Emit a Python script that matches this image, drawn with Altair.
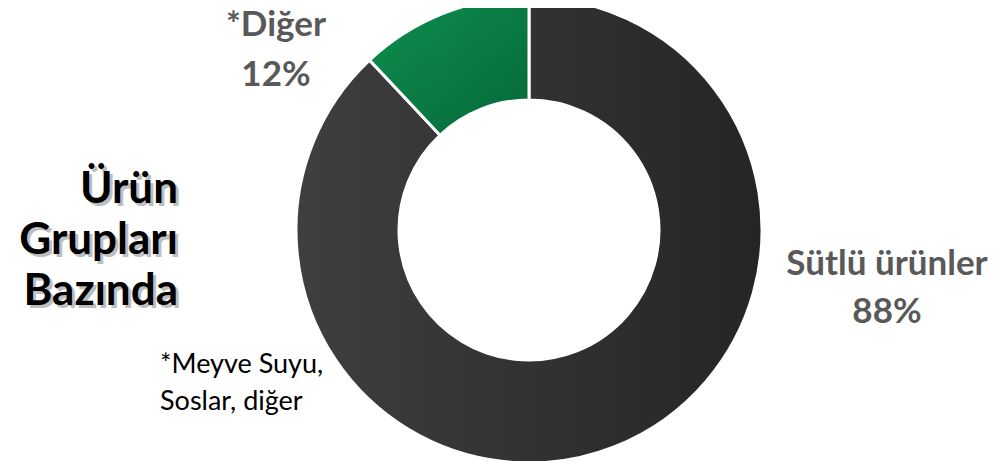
import altair as alt
import pandas as pd

# ---- data ----
categories = ["Sütlü ürünler", "*Diğer"]
values = [88, 12]
pct_labels = ["88%", "12%"]
slice_order = [0, 1]
title_lines = ["Ürün", "Grupları", "Bazında"]
note_lines = ["*Meyve Suyu,", "Soslar, diğer"]

df = pd.DataFrame({"cat": categories, "val": values, "pct": pct_labels, "ord": slice_order})
title_df = pd.DataFrame({"t": ["|".join(title_lines)]})
note_df = pd.DataFrame({"t": ["|".join(note_lines)]})

grey_grad = alt.LinearGradient(
    gradient="linear",
    stops=[alt.GradientStop(color="#3f3f3f", offset=0), alt.GradientStop(color="#252525", offset=1)],
    x1=0, y1=0, x2=1, y2=0,
)
green_grad = alt.LinearGradient(
    gradient="linear",
    stops=[alt.GradientStop(color="#0e8f4f", offset=0), alt.GradientStop(color="#066838", offset=1)],
    x1=0, y1=0, x2=1, y2=1,
)

CX, CY = 521, 222

arc = alt.Chart(df).mark_arc(radius=233, radius2=130, stroke="white", strokeWidth=3).encode(
    theta=alt.Theta("val:Q", stack=True),
    order=alt.Order("ord:Q"),
    fill=alt.condition(alt.datum.cat == "*Diğer", alt.value(green_grad), alt.value(grey_grad)),
    x=alt.value(CX),
    y=alt.value(CY),
)


def slice_label(cat, x, y, lh):
    return (
        alt.Chart(df)
        .transform_filter(alt.datum.cat == cat)
        .transform_calculate(lab="datum.cat + '|' + datum.pct")
        .mark_text(font="Lato", fontWeight="bold", fontSize=35, color="#595959",
                   align="center", baseline="alphabetic", lineBreak="|", lineHeight=lh)
        .encode(text="lab:N", x=alt.value(x), y=alt.value(y))
    )


lab_other = slice_label("*Diğer", 268, 28, 50)
lab_milk = slice_label("Sütlü ürünler", 879, 267, 48)

title_shadow = alt.Chart(title_df).mark_text(
    font="Lato", fontWeight="bold", fontSize=44, color="#8a8a8a", opacity=0.55,
    align="right", baseline="alphabetic", lineBreak="|", lineHeight=51,
).encode(text="t:N", x=alt.value(173), y=alt.value(198))

title = alt.Chart(title_df).mark_text(
    font="Lato", fontWeight="bold", fontSize=44, color="#000000",
    align="right", baseline="alphabetic", lineBreak="|", lineHeight=51,
).encode(text="t:N", x=alt.value(170), y=alt.value(195))

note = alt.Chart(note_df).mark_text(
    font="Lato", fontSize=27, color="#000000",
    align="left", baseline="alphabetic", lineBreak="|", lineHeight=37,
).encode(text="t:N", x=alt.value(152), y=alt.value(365))

chart = (
    alt.layer(arc, lab_other, lab_milk, title_shadow, title, note)
    .properties(width=988, height=453, autosize=alt.AutoSizeParams(type="none"), padding=0)
    .configure_view(stroke=None)
)

chart.save("out.html", embed_options={"renderer": "svg", "actions": False})
